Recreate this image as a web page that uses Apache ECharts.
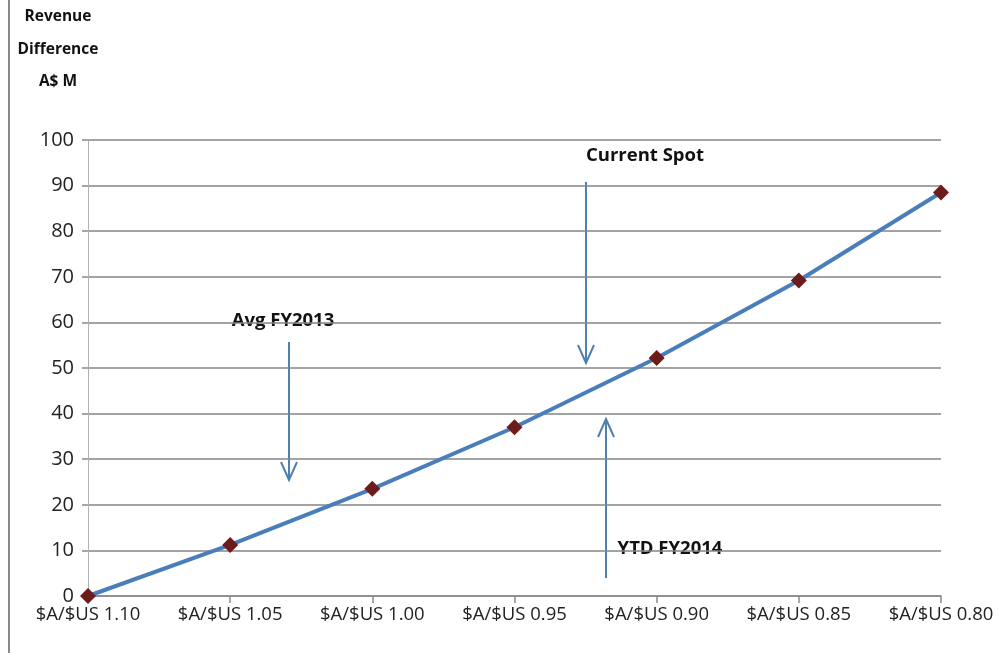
<!DOCTYPE html>
<html>
<head>
<meta charset="utf-8">
<script src="https://cdn.jsdelivr.net/npm/echarts@6/dist/echarts.min.js"></script>
<style>
  html, body { margin: 0; padding: 0; background: #fff; }
  #chart { width: 998px; height: 653px; }
</style>
</head>
<body>
<div id="chart"></div>
<script>
// exchange rate scenarios and revenue difference (A$ M)
const rates = ['$A/$US 1.10', '$A/$US 1.05', '$A/$US 1.00', '$A/$US 0.95', '$A/$US 0.90', '$A/$US 0.85', '$A/$US 0.80']
const revenueDiff = [0, 11.2, 23.5, 37, 52.2, 69.2, 88.5]
const yTicks = { min: 0, max: 100, interval: 10 }

const font = "'Open Sans', sans-serif"
const arrowColor = '#4f81b0'

const myChart = echarts.init(document.getElementById('chart'), null, { renderer: 'canvas' })

// annotation arrow: vertical line with open head
const arrow = (x, y1, y2) => {
    const dir = y2 > y1 ? -1 : 1
    return [
        { type: 'line', shape: { x1: x, y1: y1, x2: x, y2: y2 }, style: { stroke: arrowColor, lineWidth: 2 } },
        { type: 'polyline', shape: { points: [[x - 8, y2 + dir * 18], [x, y2], [x + 8, y2 + dir * 18]] }, style: { stroke: arrowColor, lineWidth: 2, fill: null } }
    ]
}
const label = (text, x, y) => ({
    type: 'text', x: x, y: y,
    style: { text: text, font: 'bold 18.5px ' + font, fill: '#111', align: 'center', verticalAlign: 'middle' }
})

myChart.setOption({
    animation: false,
    grid: { left: 88, right: 57, top: 140, bottom: 57 },
    xAxis: {
        type: 'category',
        data: rates,
        boundaryGap: false,
        axisLine: { lineStyle: { color: '#8a8a8a', width: 1.5 } },
        axisTick: { length: 7, lineStyle: { color: '#8a8a8a', width: 1.5 } },
        axisLabel: { color: '#222', fontSize: 18.5, fontFamily: font, margin: 9, interval: 0 }
    },
    yAxis: {
        type: 'value',
        min: yTicks.min, max: yTicks.max, interval: yTicks.interval,
        axisLine: { show: true, lineStyle: { color: '#b0b0b0', width: 1 } },
        axisTick: { show: true, inside: false, length: 6, lineStyle: { color: '#8a8a8a', width: 1.5 } },
        axisLabel: { color: '#222', fontSize: 20, fontFamily: font, margin: 14 },
        splitLine: { lineStyle: { color: '#858585', width: 1.5 } }
    },
    series: [{
        type: 'line',
        data: revenueDiff,
        lineStyle: { color: '#4a7ebb', width: 4 },
        symbol: 'diamond',
        symbolSize: 16,
        itemStyle: { color: '#6e1b1b' },
        z: 5
    }],
    graphic: [
        { type: 'line', shape: { x1: 9, y1: 0, x2: 9, y2: 653 }, style: { stroke: '#8a8a8a', lineWidth: 2 } },
        { type: 'text', x: 58, y: 17, style: { text: 'Revenue', font: 'bold 15.5px ' + font, fill: '#111', align: 'center', verticalAlign: 'middle' } },
        { type: 'text', x: 58, y: 50, style: { text: 'Difference', font: 'bold 15.5px ' + font, fill: '#111', align: 'center', verticalAlign: 'middle' } },
        { type: 'text', x: 58, y: 82, style: { text: 'A$ M', font: 'bold 15.5px ' + font, fill: '#111', align: 'center', verticalAlign: 'middle' } },
        label('Avg FY2013', 283, 321),
        ...arrow(289, 342, 480),
        label('Current Spot', 645, 156),
        ...arrow(586, 182, 363),
        label('YTD FY2014', 670, 549),
        ...arrow(606, 578, 419)
    ]
})
</script>
</body>
</html>
